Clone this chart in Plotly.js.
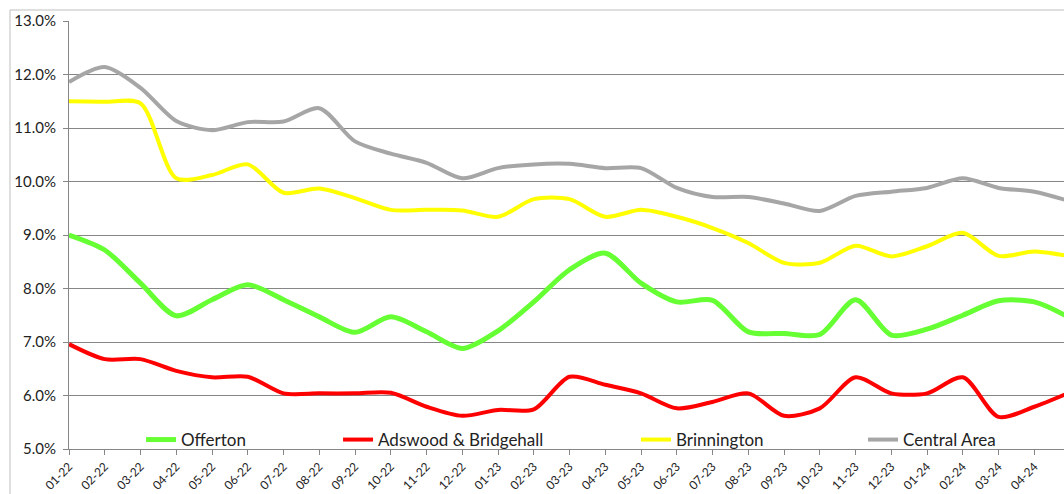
<!DOCTYPE html>
<html>
<head>
<meta charset="utf-8">
<script src="https://cdn.plot.ly/plotly-3.0.1.min.js"></script>
<style>
  html, body { margin: 0; padding: 0; background: #fff; }
  #grafico { width: 1064px; height: 494px; }
</style>
</head>
<body>
<div id="grafico"></div>
<script>
const meses = ['01-22', '02-22', '03-22', '04-22', '05-22', '06-22', '07-22', '08-22', '09-22',
  '10-22', '11-22', '12-22', '01-23', '02-23', '03-23', '04-23', '05-23', '06-23', '07-23',
  '08-23', '09-23', '10-23', '11-23', '12-23', '01-24', '02-24', '03-24', '04-24', '05-24'];

const offerton = [9.0, 8.72, 8.1, 7.49, 7.79, 8.07, 7.79, 7.47, 7.18, 7.47, 7.19, 6.88, 7.21,
  7.75, 8.35, 8.66, 8.1, 7.75, 7.78, 7.19, 7.16, 7.14, 7.79, 7.13, 7.24, 7.5, 7.77, 7.75, 7.45];

const adswood = [6.96, 6.68, 6.68, 6.46, 6.34, 6.35, 6.04, 6.04, 6.04, 6.05, 5.79, 5.62, 5.73,
  5.74, 6.35, 6.2, 6.04, 5.76, 5.88, 6.04, 5.62, 5.76, 6.34, 6.04, 6.04, 6.34, 5.6, 5.79, 6.06];

const brinnington = [11.5, 11.49, 11.46, 10.06, 10.12, 10.32, 9.79, 9.87, 9.69, 9.47, 9.47, 9.46,
  9.34, 9.67, 9.67, 9.34, 9.47, 9.34, 9.13, 8.85, 8.48, 8.48, 8.8, 8.6, 8.79, 9.04, 8.61, 8.69, 8.6];

const central = [11.86, 12.14, 11.75, 11.13, 10.96, 11.11, 11.12, 11.37, 10.75, 10.52, 10.35,
  10.06, 10.25, 10.32, 10.33, 10.25, 10.25, 9.88, 9.71, 9.71, 9.59, 9.45, 9.73, 9.81, 9.88,
  10.06, 9.88, 9.81, 9.63];

const yTicks = [5, 6, 7, 8, 9, 10, 11, 12, 13];
const yTickText = yTicks.map(v => v.toFixed(1) + '%');

function serie(nombre, valores, color, ancho, leyenda) {
  return {
    x: meses,
    y: valores,
    type: 'scatter',
    mode: 'lines',
    name: nombre,
    legend: leyenda,
    line: { color: color, width: ancho, shape: 'spline', smoothing: 0.8 },
    hoverinfo: 'skip'
  };
}

function cajaLeyenda(x) {
  return {
    x: x,
    y: 0.021,
    xanchor: 'left',
    yanchor: 'middle',
    orientation: 'h',
    bgcolor: 'rgba(0,0,0,0)',
    font: { family: 'Lato, "Open Sans", sans-serif', size: 17, color: '#222' },
    itemwidth: 30
  };
}

const trazas = [
  serie('Offerton', offerton, '#66ff33', 5, 'legend'),
  serie('Adswood & Bridgehall', adswood, '#ff0000', 4, 'legend2'),
  serie('Brinnington', brinnington, '#ffff00', 4, 'legend3'),
  serie('Central Area', central, '#a6a6a6', 4, 'legend4')
];

const layout = {
  width: 1064,
  height: 494,
  margin: { l: 69, r: 0, t: 21, b: 45 },
  paper_bgcolor: '#ffffff',
  plot_bgcolor: '#ffffff',
  font: { family: 'Lato, "Open Sans", sans-serif', color: '#222' },
  showlegend: true,
  xaxis: {
    type: 'category',
    range: [0, 27.83],
    tickangle: -45,
    ticks: 'outside',
    ticklen: 5,
    tickcolor: '#868686',
    showline: true,
    linecolor: '#868686',
    showgrid: false,
    zeroline: false,
    tickfont: { size: 12, color: '#222' },
    automargin: false
  },
  yaxis: {
    range: [5, 13],
    tickmode: 'array',
    tickvals: yTicks,
    ticktext: yTickText,
    ticks: 'outside',
    ticklen: 5,
    tickcolor: '#868686',
    ticklabelstandoff: 4,
    showline: true,
    linecolor: '#868686',
    gridcolor: '#868686',
    gridwidth: 1,
    zeroline: false,
    tickfont: { size: 15, color: '#222' },
    automargin: false
  },
  legend: cajaLeyenda(0.0724),
  legend2: cajaLeyenda(0.2704),
  legend3: cajaLeyenda(0.5698),
  legend4: cajaLeyenda(0.798),
  shapes: [
    {
      type: 'line', xref: 'paper', yref: 'paper',
      x0: -0.0593, x1: 1.01, y0: 1.0257, y1: 1.0257,
      line: { color: '#bfbfbf', width: 1 }
    },
    {
      type: 'line', xref: 'paper', yref: 'paper',
      x0: -0.0593, x1: -0.0593, y0: 1.0257, y1: -0.11,
      line: { color: '#bfbfbf', width: 1 }
    }
  ]
};

Plotly.newPlot('grafico', trazas, layout, { displayModeBar: false, responsive: false });
</script>
</body>
</html>
